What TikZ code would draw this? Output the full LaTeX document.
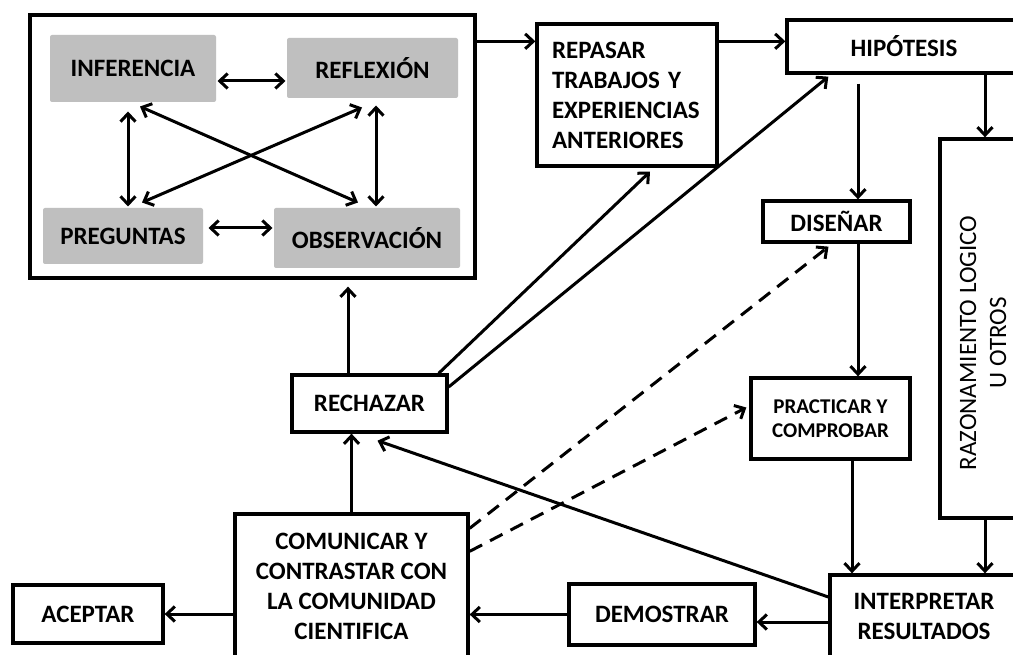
\documentclass[tikz,border=0pt]{standalone}
\usepackage{fontspec}
\setmainfont{Carlito}
\usepackage{graphicx}
\usepackage{tikz}
\usetikzlibrary{arrows.meta}
\definecolor{boxgray}{HTML}{BFBFBF}
\tikzstyle{box}=[draw=black,line width=3.3pt,fill=white,inner sep=0pt,align=center,font=\bfseries\fontsize{25}{30}\selectfont]
\tikzstyle{grey}=[fill=boxgray,rounded corners=2pt,inner sep=0pt,font=\bfseries\fontsize{25}{30}\selectfont]
\tikzstyle{arrow}=[->,line width=3pt,>={Straight Barb[length=8pt,width=15pt]}]
\tikzstyle{both}=[<->,line width=3pt,>={Straight Barb[length=8pt,width=15pt]}]
\tikzstyle{hint}=[dashed,dash pattern=on 14pt off 9pt]
\tikzset{every picture/.style={
    line width=3pt
  }
}

\begin{document}
\begin{tikzpicture}[x=1pt,y=-1pt]
      \useasboundingbox (0,0) rectangle (1013,655);
      \clip (0,0) rectangle (1013,655);
      % ciclo
      \node[box,minimum width=445pt,minimum height=263pt] at (252.5,146.5) (ciclo) {};
      \node[grey,minimum width=166pt,minimum height=67pt] at (133,68.5) (inferencia) {INFERENCIA};
      \node[grey,minimum width=171pt,minimum height=60pt] at (372.5,68) (reflexion) {REFLEXIÓN};
      \node[grey,minimum width=160pt,minimum height=56pt] at (123,236) (preguntas) {PREGUNTAS};
      \node[grey,minimum width=186pt,minimum height=60pt] at (367,238) (observacion) {OBSERVACIÓN};
      \draw[both] ([yshift=-12.5pt]inferencia.east) -- ([yshift=-12.5pt]inferencia.east -| reflexion.west);
      \draw[both] ([xshift=4pt,yshift=8pt]preguntas.east) -- ([yshift=8pt]preguntas.east -| observacion.west);
      \draw[both] ([xshift=-5pt,yshift=-8pt]inferencia.south) -- ([xshift=-5pt]inferencia.south |- preguntas.north);
      \draw[both] ([xshift=3.5pt,yshift=-6pt]reflexion.south) -- ([xshift=3.5pt]reflexion.south |- observacion.north);
      \draw[both] ([xshift=7pt,yshift=-3pt]inferencia.south) -- ([xshift=-9pt,yshift=4pt]observacion.north);
      \draw[both] ([xshift=-10.5pt,yshift=-8pt]reflexion.south) -- ([xshift=19pt,yshift=4pt]preguntas.north);
      % pasos
      \node[box,minimum width=180pt,minimum height=142pt,text width=150pt,align=left] at (627,95) (repasar) {REPASAR\\TRABAJOS Y\\EXPERIENCIAS\\ANTERIORES};
      \node[box,minimum width=234pt,minimum height=53pt] at (904,46.5) (hipotesis) {HIPÓTESIS};
      \node[box,minimum width=147pt,minimum height=41pt] at (836.5,221.5) (disenar) {DISEÑAR};
      \node[box,minimum width=90pt,minimum height=379pt,font=\fontsize{25}{30}\selectfont] at (985,328.5) (razonamiento) {\rotatebox{90}{\begin{tabular}{@{}c@{\hspace{29pt}}}RAZONAMIENTO LOGICO\\U OTROS\end{tabular}}};
      \node[box,minimum width=159pt,minimum height=81pt,font=\bfseries\fontsize{21}{24}\selectfont] at (830.5,418.5) (practicar) {PRACTICAR Y\\COMPROBAR};
      \node[box,minimum width=188pt,minimum height=82pt] at (924,616) (interpretar) {INTERPRETAR\\RESULTADOS};
      \node[box,minimum width=186pt,minimum height=61pt] at (662,614.5) (demostrar) {DEMOSTRAR};
      \node[box,minimum width=233pt,minimum height=144pt] at (351.5,586) (comunicar) {COMUNICAR Y\\CONTRASTAR CON\\LA COMUNIDAD\\CIENTIFICA};
      \node[box,minimum width=150pt,minimum height=58pt] at (88,614) (aceptar) {ACEPTAR};
      \node[box,minimum width=155pt,minimum height=57pt] at (369.5,403.5) (rechazar) {RECHAZAR};
      \draw[arrow] ([yshift=-28pt]ciclo.north east) -- ([yshift=-28pt]ciclo.north east -| repasar.west);
      \draw[arrow] ([yshift=-19pt]repasar.north east) -- ([yshift=-19pt]repasar.north east -| hipotesis.west);
      \draw[arrow,shorten <=9pt] ([xshift=21.5pt]disenar.north |- hipotesis.south) -- ([xshift=21.5pt]disenar.north);
      \draw[arrow] (razonamiento.north |- hipotesis.south) -- (razonamiento.north);
      \draw[arrow] ([xshift=21.5pt]disenar.south) -- ([xshift=21.5pt]disenar.south |- practicar.north);
      \draw[arrow] ([xshift=21.5pt]practicar.south) -- ([xshift=21.5pt]practicar.south |- interpretar.north);
      \draw[arrow] (razonamiento.south) -- (razonamiento.south |- interpretar.north);
      \draw[arrow] ([yshift=-6pt]interpretar.west) -- ([yshift=-6pt]interpretar.west -| demostrar.east);
      \draw[arrow] (demostrar.west) -- (demostrar.west -| comunicar.east);
      \draw[arrow] (comunicar.west |- aceptar.east) -- (aceptar.east);
      \draw[arrow] (comunicar.north) -- (comunicar.north |- rechazar.south);
      \draw[arrow,shorten >=7pt] ([xshift=-21.5pt]rechazar.north) -- ([xshift=-21.5pt]rechazar.north |- ciclo.south);
      \draw[arrow] ([xshift=-10pt]rechazar.north east) -- ([xshift=23pt,yshift=-4pt]repasar.south);
      \draw[arrow] ([yshift=16.5pt]rechazar.east) -- ([xshift=43pt,yshift=-2pt]hipotesis.south west);
      \draw[arrow] ([yshift=19pt]interpretar.west) -- ([xshift=8pt,yshift=-7pt]rechazar.south);
      \draw[arrow,hint] ([yshift=-16pt]comunicar.north east) -- ([xshift=-8pt,yshift=-3pt]disenar.south);
      \draw[arrow,hint] ([yshift=-39pt]comunicar.north east) -- ([xshift=-3pt,yshift=11pt]practicar.west);
    \end{tikzpicture}
\end{document}
